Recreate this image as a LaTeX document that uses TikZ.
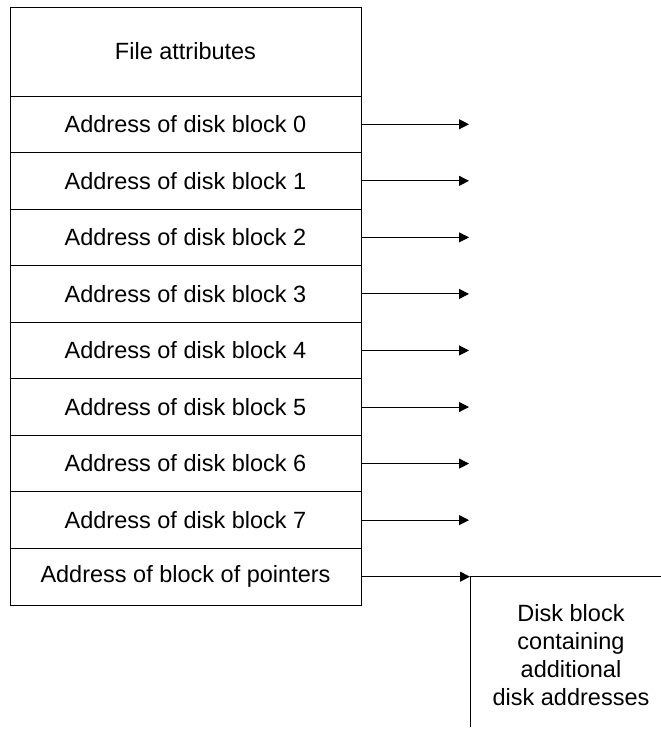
\documentclass[tikz,border=0pt]{standalone}
\usepackage{fontspec}
\setmainfont{Liberation Sans}
\usetikzlibrary{positioning,arrows.meta}

\begin{document}
\begin{tikzpicture}[x=1pt,y=1pt,
      font=\fontsize{23.5}{28}\selectfont,
      cell/.style={draw,line width=0.9pt,minimum width=351pt,minimum height=56.55pt,
                   inner sep=0pt,outer sep=0pt},
      ar/.style={-{Triangle[length=10pt,width=10pt]},line width=0.9pt}]

    \useasboundingbox (0,0) rectangle (661,-729);

    \node[cell,minimum height=89pt,anchor=north west] (attr) at (10,-7) {File attributes};
    \node[cell,below=0pt of attr] (r0) {Address of disk block 0};
    \foreach \i [count=\j from 0] in {1,...,7}
      \node[cell,below=0pt of r\j] (r\i) {Address of disk block \i};
    \node[cell,below=0pt of r7] (ptr) {Address of block of pointers};

    \foreach \i in {0,...,7} {
      \coordinate[right=108pt of r\i.east] (a\i);
      \draw[ar] (r\i.east) -- (a\i);
    }

    \coordinate[right=109pt of ptr.east] (dcorner);
    \draw[ar] (ptr.east) -- (dcorner);
    \draw[line width=0.9pt] (dcorner) ++(191,0) -- (dcorner) -- ++(0,-150);
    \node[align=center] (disk) at ([xshift=101pt,yshift=-78pt]dcorner)
      {Disk block\\containing\\additional\\disk addresses};
  \end{tikzpicture}
\end{document}
